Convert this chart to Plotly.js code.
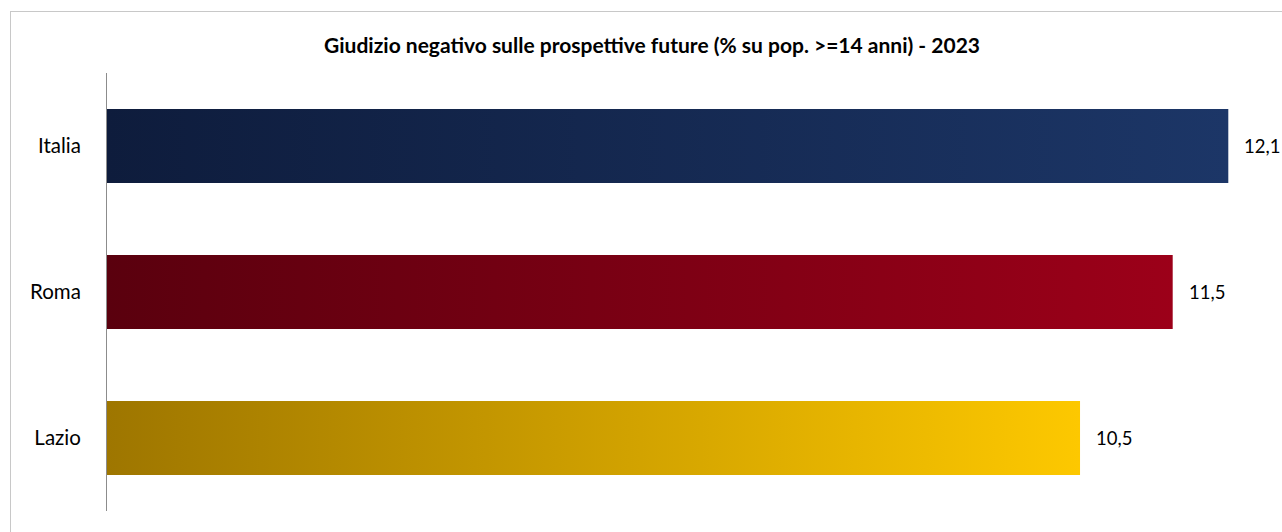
<!DOCTYPE html>
<html>
<head>
<meta charset="utf-8">
<script src="https://cdn.plot.ly/plotly-3.0.1.min.js"></script>
<style>
  html, body { margin: 0; padding: 0; background: #ffffff; }
  #wrap { position: relative; width: 1282px; height: 532px; overflow: hidden; }
  #chart { width: 1282px; height: 532px; }
  #frame { position: absolute; left: 10px; top: 11px; width: 1400px; height: 600px;
           border-left: 1.5px solid #c8c8c8; border-top: 1.5px solid #c8c8c8; pointer-events: none; }
</style>
</head>
<body>
<div id="wrap">
  <div id="chart"></div>
  <div id="frame"></div>
</div>
<script>
// ---- data ----
const categories = ['Italia', 'Roma', 'Lazio'];
const values = [12.1, 11.5, 10.5];
const startColors = ['#0e1c3c', '#5a000e', '#9e7600'];
const endColors = ['#1c3667', '#9c0019', '#fdc800'];
const chartTitle = 'Giudizio negativo sulle prospettive future (% su pop. >=14 anni) - 2023';

// ---- build ----
const half = 0.253;
const FONT = 'Lato, "Open Sans", sans-serif';
const traces = categories.map((c, i) => ({
  type: 'scatter',
  mode: 'lines',
  x: [0, values[i], values[i], 0, 0],
  y: [i - half, i - half, i + half, i + half, i - half],
  fill: 'toself',
  line: { width: 0, color: 'rgba(0,0,0,0)' },
  fillcolor: endColors[i],
  fillgradient: {
    type: 'horizontal',
    colorscale: [[0, startColors[i]], [1, endColors[i]]]
  },
  hoverinfo: 'skip',
  showlegend: false
}));

const annotations = categories.map((c, i) => ({
  x: values[i],
  y: i,
  xref: 'x',
  yref: 'y',
  text: values[i].toFixed(1).replace('.', ','),
  showarrow: false,
  xanchor: 'left',
  yanchor: 'middle',
  xshift: 14,
  font: { family: FONT, size: 18.5, color: '#000000' }
}));

const layout = {
  width: 1282,
  height: 532,
  margin: { l: 107, r: 12, t: 73, b: 21, pad: 0 },
  paper_bgcolor: '#ffffff',
  plot_bgcolor: '#ffffff',
  title: {
    text: '<b>' + chartTitle + '</b>',
    x: 0.5086,
    xanchor: 'center',
    y: 1 - 46 / 532,
    yanchor: 'middle',
    font: { family: FONT, size: 21, color: '#000000' }
  },
  xaxis: {
    range: [0, 12.55],
    visible: false,
    showgrid: false,
    zeroline: false,
    fixedrange: true
  },
  yaxis: {
    range: [2.5, -0.5],
    tickmode: 'array',
    tickvals: categories.map((c, i) => i),
    ticktext: categories,
    ticks: '',
    ticklabelstandoff: 21,
    showgrid: false,
    zeroline: false,
    showline: true,
    linecolor: '#8c8c8c',
    linewidth: 1,
    tickfont: { family: FONT, size: 20.5, color: '#000000' },
    fixedrange: true
  },
  annotations: annotations,
  showlegend: false
};

Plotly.newPlot('chart', traces, layout, { displayModeBar: false, staticPlot: true });
</script>
</body>
</html>
